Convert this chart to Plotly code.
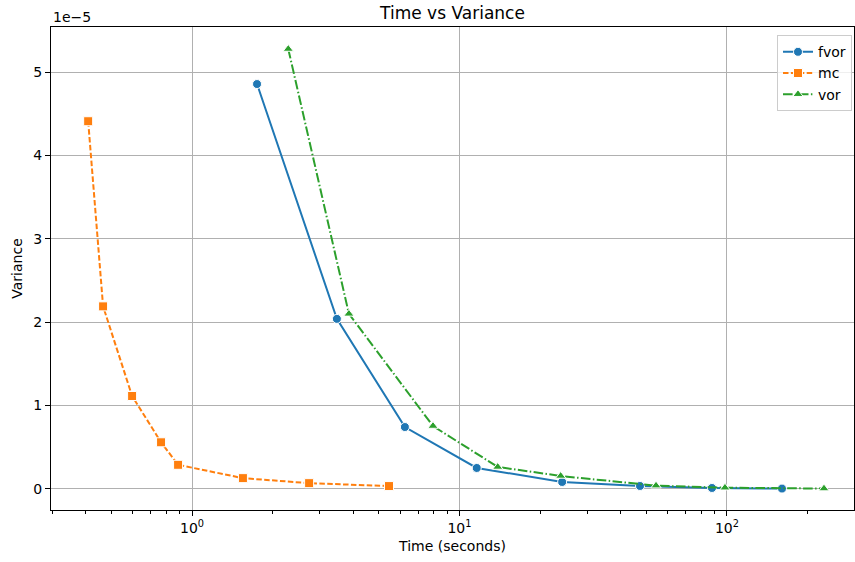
import plotly.graph_objects as go
import numpy as np

# Data
fvor_time = [1.75, 3.48, 6.25, 11.6, 24.2, 47.3, 87.9, 160.6]
fvor_var = [4.856e-5, 2.04e-5, 0.743e-5, 0.252e-5, 0.084e-5, 0.036e-5, 0.012e-5, 0.005e-5]

mc_time = [0.409, 0.465, 0.597, 0.766, 0.887, 1.55, 2.74, 5.45]
mc_var = [4.41e-5, 2.19e-5, 1.115e-5, 0.56e-5, 0.29e-5, 0.13e-5, 0.07e-5, 0.035e-5]

vor_time = [2.29, 3.86, 7.96, 13.9, 23.9, 54.3, 98.3, 230.5]
vor_var = [5.276e-5, 2.10e-5, 0.755e-5, 0.264e-5, 0.156e-5, 0.04e-5, 0.015e-5, 0.005e-5]

y_ticks = [0, 1e-5, 2e-5, 3e-5, 4e-5, 5e-5]
y_ticklabels = ["0", "1", "2", "3", "4", "5"]
x_ticks = [1, 10, 100]
x_ticklabels = ["10<sup>0</sup>", "10<sup>1</sup>", "10<sup>2</sup>"]

minor_x = [m * 10 ** e for e in (-1, 0, 1, 2) for m in range(2, 10)]
minor_x = [v for v in minor_x if 0.297 < v < 298]

FONT = "DejaVu Sans"
fig = go.Figure()
fig.add_trace(go.Scatter(x=fvor_time, y=fvor_var, name="fvor", mode="lines+markers",
                         line=dict(color="#1f77b4", width=2, dash="solid"),
                         marker=dict(symbol="circle", size=9, color="#1f77b4",
                                     line=dict(color="white", width=1))))
fig.add_trace(go.Scatter(x=mc_time, y=mc_var, name="mc", mode="lines+markers",
                         line=dict(color="#ff7f0e", width=2, dash="5.5px,2.4px"),
                         marker=dict(symbol="square", size=9, color="#ff7f0e",
                                     line=dict(color="white", width=1))))
fig.add_trace(go.Scatter(x=vor_time, y=vor_var, name="vor", mode="lines+markers",
                         line=dict(color="#2ca02c", width=2, dash="9.6px,2.4px,1.5px,2.4px"),
                         marker=dict(symbol="triangle-up", size=9, color="#2ca02c",
                                     line=dict(color="white", width=1))))

fig.update_layout(
    width=855, height=562,
    margin=dict(l=51, r=1, t=27, b=52, autoexpand=False),
    paper_bgcolor="white", plot_bgcolor="white",
    font=dict(family=FONT, size=14, color="black"),
    title=dict(text="Time vs Variance", x=0.5, xref="paper", xanchor="center",
               y=1 - 13 / 562, yanchor="middle", font=dict(size=17)),
    showlegend=True,
    legend=dict(x=0.9975, y=0.983, xanchor="right", yanchor="top",
                bgcolor="rgba(255,255,255,0.8)", bordercolor="#cccccc", borderwidth=1,
                font=dict(size=14), tracegroupgap=0),
    xaxis=dict(type="log", range=[np.log10(0.297), np.log10(298.5)],
               tickmode="array", tickvals=x_ticks, ticktext=x_ticklabels,
               ticks="outside", ticklen=5, tickwidth=1, tickcolor="black",
               showgrid=True, gridcolor="#b0b0b0", gridwidth=1,
               showline=True, linecolor="black", linewidth=1, mirror=True,
               zeroline=False, automargin=False,
               minor=dict(tickmode="array", tickvals=minor_x, ticks="outside",
                          ticklen=3, tickcolor="black", showgrid=False),
               title=dict(text="Time (seconds)", font=dict(size=14), standoff=6)),
    yaxis=dict(range=[-0.252e-5, 5.54e-5],
               tickmode="array", tickvals=y_ticks, ticktext=y_ticklabels,
               ticks="outside", ticklen=5, tickwidth=1, tickcolor="black",
               showgrid=True, gridcolor="#b0b0b0", gridwidth=1,
               showline=True, linecolor="black", linewidth=1, mirror=True,
               zeroline=False, automargin=False,
               title=dict(text="Variance", font=dict(size=14), standoff=7)),
    annotations=[dict(text="1e\u22125", xref="paper", yref="paper", x=0, y=1,
                      xanchor="left", yanchor="bottom", showarrow=False,
                      font=dict(size=14), yshift=0)],
)

fig.write_html("out.html", config={"displayModeBar": False},
               post_script="document.body.style.margin='0';document.body.style.overflow='hidden';")
